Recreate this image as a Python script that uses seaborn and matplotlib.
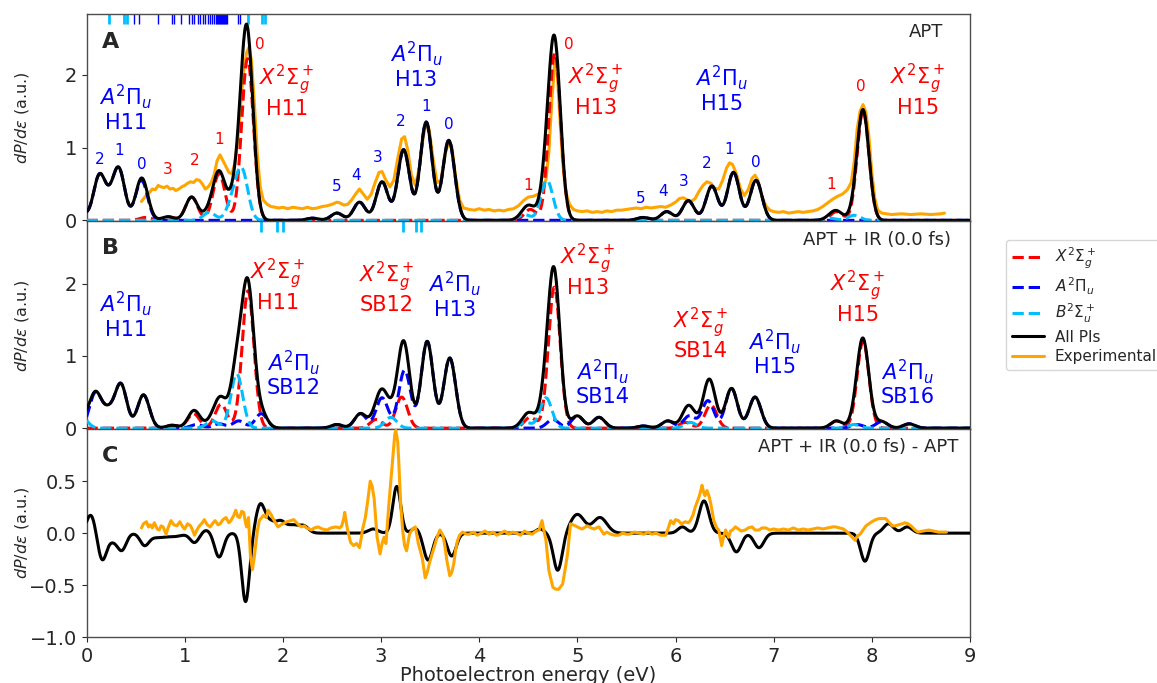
import numpy as np
import matplotlib
matplotlib.use("Agg")
import matplotlib.pyplot as plt
from matplotlib.lines import Line2D
import seaborn as sns

# ===================== data =====================
# Peak tables (centre in eV, height in a.u.) of each ionisation channel.
# Panel A : APT
a_X_pos = [0.60, 0.83, 1.07, 1.35, 1.64, 4.52, 4.77, 7.64, 7.91]
a_X_amp = [0.04, 0.05, 0.32, 0.64, 2.22, 0.15, 2.30, 0.12, 1.50]
a_A_pos = [-0.08, 0.13, 0.235, 0.33, 0.56, 2.30, 2.55, 2.78, 3.01, 3.23, 3.46, 3.69,
           5.67, 5.91, 6.13, 6.37, 6.59, 6.82]
a_A_amp = [0.15, 0.60, 0.17, 0.68, 0.55, 0.03, 0.10, 0.25, 0.53, 0.97, 1.35, 1.10,
           0.04, 0.12, 0.27, 0.47, 0.66, 0.55]
a_B_pos = [1.25, 1.49, 1.585, 4.46, 4.69, 7.57, 7.82]
a_B_amp = [0.11, 0.25, 0.65, 0.08, 0.55, 0.03, 0.07]

# Panel B : APT + IR (0.0 fs)
b_X_pos = [0.87, 1.09, 1.37, 1.645, 2.95, 3.21, 4.52, 4.765, 6.10, 6.36, 7.64, 7.91]
b_X_amp = [0.04, 0.20, 0.33, 1.90, 0.12, 0.43, 0.15, 1.95, 0.08, 0.32, 0.10, 1.20]
b_A_pos = [0.09, 0.22, 0.35, 0.58, 1.12, 1.35, 1.55, 1.78, 2.55, 2.79, 3.01, 3.24, 3.47,
           3.70, 4.75, 5.00, 5.22, 5.67, 5.92, 6.14, 6.33, 6.57, 6.81, 7.85, 8.10, 8.38]
b_A_amp = [0.48, 0.22, 0.60, 0.46, 0.05, 0.06, 0.10, 0.20, 0.05, 0.20, 0.42, 0.80, 1.20,
           0.97, 0.12, 0.17, 0.15, 0.03, 0.10, 0.17, 0.38, 0.55, 0.43, 0.05, 0.09, 0.06]
b_B_pos = [-0.05, 1.28, 1.53, 3.10, 4.47, 4.68, 6.15, 7.82]
b_B_amp = [0.15, 0.10, 0.75, 0.15, 0.08, 0.42, 0.08, 0.05]

# Panel C : difference (theory), signed peaks with their widths
c_pos = [0.045, 0.16, 0.27, 0.36, 0.59, 0.72, 0.90, 1.10, 1.22, 1.35, 1.62, 1.77, 1.87,
         1.98, 2.10, 2.21, 2.92, 3.16, 3.35, 3.48, 3.72, 4.62, 4.80, 5.00, 5.23, 6.07,
         6.29, 6.62, 6.85, 7.93, 8.17, 8.36]
c_amp = [0.18, -0.26, -0.06, -0.16, -0.11, -0.04, -0.03, -0.09, 0.03, -0.23, -0.66, 0.27,
         0.10, 0.11, 0.07, 0.07, 0.04, 0.45, 0.05, -0.26, -0.22, 0.04, -0.36, 0.18, 0.15,
         0.06, 0.31, -0.18, -0.14, -0.27, 0.09, 0.06]
c_wid = [0.045, 0.045, 0.045, 0.045, 0.045, 0.08, 0.08, 0.045, 0.045, 0.045, 0.04, 0.045,
         0.05, 0.05, 0.05, 0.05, 0.05, 0.04, 0.04, 0.045, 0.045, 0.04, 0.045, 0.07, 0.07,
         0.045, 0.05, 0.05, 0.05, 0.045, 0.05, 0.05]

# Experimental spectrum, panel A
a_exp_x = [0.56, 0.60, 0.64, 0.67, 0.70, 0.73, 0.76, 0.79, 0.82, 0.85, 0.88, 0.91, 0.94, 0.97,
           1.00, 1.03, 1.06, 1.09, 1.12, 1.15, 1.18, 1.21, 1.24, 1.27, 1.30, 1.33, 1.36, 1.39,
           1.42, 1.45, 1.48, 1.51, 1.54, 1.57, 1.60, 1.63, 1.655, 1.68, 1.71, 1.74, 1.77, 1.80,
           1.84, 1.88, 1.92, 1.96, 2.00, 2.05, 2.10, 2.15, 2.20, 2.25, 2.30, 2.35, 2.40, 2.45,
           2.50, 2.55, 2.58, 2.62, 2.66, 2.70, 2.74, 2.78, 2.82, 2.86, 2.90, 2.94, 2.98, 3.01,
           3.05, 3.09, 3.13, 3.17, 3.21, 3.24, 3.27, 3.31, 3.35, 3.39, 3.43, 3.46, 3.49, 3.53,
           3.57, 3.61, 3.65, 3.69, 3.72, 3.76, 3.80, 3.84, 3.90, 3.95, 4.00, 4.05, 4.10, 4.15,
           4.20, 4.25, 4.30, 4.35, 4.40, 4.45, 4.50, 4.55, 4.60, 4.64, 4.68, 4.71, 4.74, 4.77,
           4.79, 4.82, 4.85, 4.88, 4.92, 4.96, 5.00, 5.05, 5.10, 5.15, 5.20, 5.25, 5.30, 5.35,
           5.40, 5.45, 5.50, 5.55, 5.60, 5.65, 5.70, 5.75, 5.80, 5.85, 5.90, 5.95, 6.00, 6.04,
           6.08, 6.12, 6.16, 6.20, 6.24, 6.28, 6.32, 6.36, 6.40, 6.44, 6.48, 6.52, 6.55, 6.58,
           6.62, 6.66, 6.70, 6.74, 6.78, 6.81, 6.84, 6.88, 6.92, 6.96, 7.00, 7.05, 7.10, 7.15,
           7.20, 7.25, 7.30, 7.35, 7.40, 7.45, 7.50, 7.55, 7.60, 7.65, 7.70, 7.75, 7.79, 7.82,
           7.85, 7.88, 7.91, 7.94, 7.97, 8.00, 8.03, 8.06, 8.10, 8.15, 8.20, 8.30, 8.40, 8.50,
           8.60, 8.70, 8.74]
a_exp_y = [0.26, 0.33, 0.38, 0.43, 0.42, 0.48, 0.46, 0.45, 0.47, 0.43, 0.44, 0.41, 0.43, 0.46,
           0.48, 0.51, 0.53, 0.52, 0.56, 0.55, 0.50, 0.43, 0.46, 0.52, 0.63, 0.82, 0.90, 0.82,
           0.74, 0.66, 0.64, 0.78, 1.10, 1.60, 2.05, 2.30, 2.38, 2.20, 1.60, 0.90, 0.45, 0.28,
           0.22, 0.19, 0.18, 0.17, 0.18, 0.16, 0.18, 0.17, 0.16, 0.18, 0.16, 0.17, 0.19, 0.20,
           0.22, 0.25, 0.24, 0.21, 0.22, 0.28, 0.36, 0.43, 0.36, 0.29, 0.36, 0.52, 0.66, 0.67,
           0.55, 0.46, 0.55, 0.85, 1.12, 1.15, 0.98, 0.62, 0.48, 0.72, 1.15, 1.33, 1.25, 0.85,
           0.52, 0.55, 0.90, 1.08, 1.02, 0.60, 0.28, 0.17, 0.15, 0.14, 0.16, 0.14, 0.15, 0.13,
           0.14, 0.13, 0.15, 0.16, 0.20, 0.27, 0.32, 0.33, 0.36, 0.42, 0.56, 0.95, 1.65, 2.18,
           2.15, 1.45, 0.80, 0.40, 0.22, 0.15, 0.13, 0.12, 0.13, 0.11, 0.12, 0.11, 0.13, 0.12,
           0.14, 0.14, 0.15, 0.16, 0.17, 0.16, 0.18, 0.17, 0.18, 0.19, 0.18, 0.21, 0.25, 0.30,
           0.31, 0.28, 0.26, 0.30, 0.40, 0.48, 0.53, 0.51, 0.44, 0.43, 0.55, 0.72, 0.79, 0.77,
           0.64, 0.44, 0.34, 0.42, 0.58, 0.62, 0.55, 0.33, 0.20, 0.14, 0.12, 0.11, 0.12, 0.10,
           0.11, 0.12, 0.11, 0.12, 0.13, 0.15, 0.19, 0.24, 0.29, 0.33, 0.36, 0.42, 0.52, 0.80,
           1.25, 1.50, 1.59, 1.48, 1.15, 0.65, 0.30, 0.14, 0.10, 0.09, 0.08, 0.09, 0.08, 0.09,
           0.08, 0.09, 0.10]

# Experimental difference, panel C
c_exp_x = [0.56, 0.58, 0.61, 0.63, 0.65, 0.67, 0.69, 0.72, 0.74, 0.76, 0.78, 0.81, 0.83, 0.86,
           0.89, 0.92, 0.95, 0.98, 1.00, 1.03, 1.06, 1.08, 1.10, 1.13, 1.15, 1.18, 1.20, 1.23,
           1.26, 1.29, 1.31, 1.34, 1.36, 1.39, 1.42, 1.45, 1.47, 1.50, 1.52, 1.54, 1.56, 1.58,
           1.60, 1.62, 1.63, 1.65, 1.67, 1.69, 1.71, 1.72, 1.74, 1.76, 1.80, 1.83, 1.85, 1.88,
           1.90, 1.93, 1.95, 1.98, 2.00, 2.04, 2.08, 2.11, 2.13, 2.16, 2.19, 2.22, 2.24, 2.27,
           2.29, 2.32, 2.36, 2.40, 2.45, 2.49, 2.54, 2.58, 2.60, 2.62, 2.63, 2.65, 2.66, 2.69,
           2.72, 2.75, 2.78, 2.80, 2.81, 2.84, 2.86, 2.89, 2.91, 2.93, 2.96, 2.99, 3.01, 3.03,
           3.05, 3.08, 3.10, 3.12, 3.14, 3.15, 3.17, 3.18, 3.20, 3.22, 3.24, 3.26, 3.29, 3.32,
           3.35, 3.38, 3.42, 3.45, 3.47, 3.49, 3.52, 3.54, 3.57, 3.60, 3.63, 3.65, 3.67, 3.70,
           3.72, 3.74, 3.76, 3.78, 3.80, 3.83, 3.87, 3.90, 3.94, 3.98, 4.02, 4.06, 4.10, 4.14,
           4.18, 4.22, 4.26, 4.30, 4.34, 4.38, 4.42, 4.46, 4.50, 4.54, 4.58, 4.61, 4.64, 4.66,
           4.68, 4.71, 4.75, 4.78, 4.81, 4.85, 4.88, 4.90, 4.93, 4.98, 5.02, 5.05, 5.10, 5.14,
           5.17, 5.22, 5.27, 5.30, 5.34, 5.38, 5.42, 5.46, 5.50, 5.53, 5.58, 5.63, 5.68, 5.72,
           5.76, 5.80, 5.85, 5.90, 5.93, 5.95, 5.98, 6.00, 6.03, 6.06, 6.10, 6.13, 6.15, 6.18,
           6.20, 6.24, 6.26, 6.27, 6.29, 6.30, 6.32, 6.34, 6.36, 6.39, 6.42, 6.44, 6.47, 6.49,
           6.51, 6.54, 6.56, 6.58, 6.61, 6.64, 6.67, 6.71, 6.74, 6.78, 6.81, 6.85, 6.88, 6.92,
           6.96, 7.00, 7.05, 7.10, 7.15, 7.20, 7.25, 7.30, 7.35, 7.40, 7.45, 7.50, 7.55, 7.60,
           7.63, 7.67, 7.71, 7.75, 7.78, 7.81, 7.83, 7.85, 7.88, 7.91, 7.94, 7.97, 8.00, 8.04,
           8.07, 8.11, 8.14, 8.17, 8.21, 8.24, 8.27, 8.31, 8.34, 8.37, 8.41, 8.44, 8.47, 8.52,
           8.58, 8.63, 8.68, 8.72, 8.76]
c_exp_y = [0.05, 0.09, 0.11, 0.06, 0.08, 0.05, 0.10, 0.04, 0.03, 0.07, 0.06, -0.01, 0.05, 0.12,
           0.08, 0.07, 0.11, 0.06, 0.04, 0.09, 0.07, 0.03, -0.02, 0.04, 0.07, 0.10, 0.13, 0.08,
           0.06, 0.10, 0.12, 0.08, 0.09, 0.13, 0.15, 0.10, 0.12, 0.17, 0.22, 0.16, 0.15, 0.21,
           0.20, 0.10, 0.06, 0.15, -0.23, -0.35, -0.22, -0.14, 0.02, 0.12, 0.17, 0.15, 0.22, 0.18,
           0.14, 0.09, 0.06, 0.08, 0.09, 0.11, 0.12, 0.13, 0.11, 0.08, 0.06, 0.07, 0.05, 0.04,
           0.03, 0.05, 0.06, 0.04, 0.03, 0.05, 0.06, 0.05, 0.07, 0.14, 0.20, 0.08, 0.03, -0.09,
           -0.12, -0.10, -0.14, -0.04, 0.03, 0.15, 0.28, 0.50, 0.45, 0.33, -0.04, -0.20, -0.10, -0.04,
           -0.10, 0.28, 0.50, 0.72, 0.95, 0.99, 0.88, 0.70, 0.28, 0.03, -0.12, -0.17, -0.01, 0.04,
           0.06, -0.10, -0.24, -0.43, -0.38, -0.30, -0.20, -0.14, -0.04, 0.03, -0.02, -0.12, -0.26, -0.41,
           -0.38, -0.30, -0.16, -0.07, -0.02, 0.01, -0.01, -0.01, 0.01, -0.02, 0.00, 0.02, -0.01, 0.01,
           -0.02, 0.00, 0.02, -0.01, 0.01, 0.00, -0.02, 0.02, 0.00, -0.01, 0.02, 0.03, 0.12, 0.02,
           -0.07, -0.36, -0.52, -0.54, -0.54, -0.49, -0.32, -0.20, 0.09, 0.07, 0.05, 0.04, 0.07, 0.05,
           0.04, 0.06, -0.01, 0.01, -0.01, -0.02, -0.02, 0.00, -0.01, -0.01, 0.01, 0.00, -0.01, 0.01,
           -0.01, 0.00, -0.02, -0.02, 0.06, 0.12, 0.09, 0.13, 0.12, 0.09, 0.11, 0.10, 0.12, 0.18,
           0.25, 0.35, 0.42, 0.46, 0.38, 0.36, 0.41, 0.36, 0.28, 0.12, 0.05, 0.03, -0.12, -0.03,
           0.03, -0.04, 0.02, 0.03, 0.06, 0.04, 0.02, 0.03, 0.05, 0.06, 0.03, 0.03, 0.05, 0.05,
           0.03, 0.04, 0.03, 0.04, 0.03, 0.05, 0.03, 0.04, 0.03, 0.04, 0.05, 0.04, 0.05, 0.06,
           0.06, 0.05, 0.04, 0.01, -0.02, -0.05, -0.07, -0.03, -0.01, 0.03, 0.07, 0.09, 0.11, 0.13,
           0.14, 0.14, 0.14, 0.11, 0.07, 0.07, 0.08, 0.09, 0.10, 0.09, 0.06, 0.03, 0.01, 0.02,
           0.03, 0.02, 0.01, 0.01, 0.01]

# Rug marks (eV)
rugA_cyan = [0.23, 0.38, 0.41, 1.64, 1.79, 1.82]
rugA_blue = [0.48, 0.53, 0.73, 0.87, 0.89, 0.96, 1.04, 1.07, 1.09, 1.14, 1.16, 1.19, 1.21,
             1.24, 1.26, 1.28, 1.30, 1.32, 1.33, 1.34, 1.35, 1.36, 1.37, 1.38, 1.39, 1.40,
             1.41, 1.42, 1.43, 1.54, 1.56]
rugB_cyan = [1.78, 1.94, 2.00, 3.22, 3.36, 3.41]

# Annotations: (text, x, y)
lab_X = r'$X^2\Sigma_g^+$'
lab_A = r'$A^2\Pi_u$'
a_blue_nums = [("2", 0.13, 0.84), ("1", 0.33, 0.96), ("0", 0.56, 0.77),
               ("5", 2.55, 0.46), ("4", 2.75, 0.62), ("3", 2.97, 0.86), ("2", 3.20, 1.36),
               ("1", 3.46, 1.57), ("0", 3.69, 1.32),
               ("5", 5.65, 0.30), ("4", 5.87, 0.40), ("3", 6.08, 0.54), ("2", 6.32, 0.78),
               ("1", 6.55, 0.97), ("0", 6.82, 0.79)]
a_red_nums = [("3", 0.83, 0.70), ("2", 1.10, 0.82), ("1", 1.35, 1.11), ("0", 1.77, 2.42),
              ("1", 4.50, 0.48), ("0", 4.91, 2.42), ("1", 7.59, 0.49), ("0", 7.89, 1.84)]
a_labels = [(lab_A, "H11", 0.40, 1.55, "blue"), (lab_X, "H11", 2.04, 1.78, "red"),
            (lab_A, "H13", 3.36, 2.14, "blue"), (lab_X, "H13", 5.19, 1.79, "red"),
            (lab_A, "H15", 6.47, 1.81, "blue"), (lab_X, "H15", 8.47, 1.79, "red")]
b_labels = [(lab_A, "H11", 0.40, 1.57, "blue"), (lab_X, "H11", 1.95, 1.98, "red"),
            (lab_A, "SB12", 2.11, 0.76, "blue"), (lab_X, "SB12", 3.06, 1.95, "red"),
            (lab_A, "H13", 3.75, 1.85, "blue"), (lab_X, "H13", 5.11, 2.19, "red"),
            (lab_A, "SB14", 5.26, 0.64, "blue"), (lab_X, "SB14", 6.26, 1.31, "red"),
            (lab_A, "H15", 7.01, 1.05, "blue"), (lab_X, "H15", 7.86, 1.82, "red"),
            (lab_A, "SB16", 8.36, 0.64, "blue")]

# ===================== plotting =====================
sns.set_style("ticks", {"axes.edgecolor": "0.3", "xtick.color": "0.15", "ytick.color": "0.15"})
plt.rcParams['font.family'] = ['DejaVu Sans']
plt.rcParams['mathtext.fontset'] = 'dejavusans'

energy = np.linspace(0, 9, 1801)


def broaden(pos, amp, width):
    pos = np.asarray(pos, float)[:, None]
    amp = np.asarray(amp, float)[:, None]
    width = np.broadcast_to(np.asarray(width, float), pos.shape[:1])[:, None]
    return (amp * np.exp(-(energy - pos) ** 2 / (2 * width ** 2))).sum(axis=0)


SIG = 0.06
aX, aA, aB = broaden(a_X_pos, a_X_amp, SIG), broaden(a_A_pos, a_A_amp, SIG), broaden(a_B_pos, a_B_amp, SIG)
bX, bA, bB = broaden(b_X_pos, b_X_amp, SIG), broaden(b_A_pos, b_A_amp, SIG), broaden(b_B_pos, b_B_amp, SIG)
c_theory = broaden(c_pos, c_amp, c_wid)

C_RED, C_BLUE, C_CYAN, C_ORANGE = "red", "blue", "deepskyblue", "orange"
LW = 2.2

fig = plt.figure(figsize=(11.57, 6.83), dpi=100)
axA, axB, axC = fig.subplots(3, 1, sharex=True)
fig.subplots_adjust(left=0.0748, right=0.8384, top=0.980, bottom=0.0673, hspace=0)


def line(ax, x, y, color, ls="-", z=2):
    sns.lineplot(x=x, y=y, ax=ax, color=color, linewidth=LW, linestyle=ls, zorder=z,
                 legend=False, errorbar=None)


# Panel A
line(axA, a_exp_x, a_exp_y, C_ORANGE, z=2)
line(axA, energy, aX, C_RED, "--", 3)
line(axA, energy, aA, C_BLUE, "--", 3)
line(axA, energy, aB, C_CYAN, "--", 3)
line(axA, energy, aX + aA + aB, "black", z=4)
axA.vlines(rugA_blue, 0.95, 1.0, transform=axA.get_xaxis_transform(), colors="blue", lw=1.0)
axA.vlines(rugA_cyan, 0.95, 1.0, transform=axA.get_xaxis_transform(), colors=C_CYAN, lw=2.0)

# Panel B
line(axB, energy, bX, C_RED, "--", 3)
line(axB, energy, bA, C_BLUE, "--", 3)
line(axB, energy, bB, C_CYAN, "--", 3)
line(axB, energy, bX + bA + bB, "black", z=4)
axB.vlines(rugB_cyan, 0.95, 1.0, transform=axB.get_xaxis_transform(), colors=C_CYAN, lw=2.0)

# Panel C
line(axC, energy, c_theory, "black", z=3)
line(axC, c_exp_x, c_exp_y, C_ORANGE, z=4)

# texts
for t, x, y in a_blue_nums:
    axA.text(x, y, t, color="blue", fontsize=11, ha="center", va="center")
for t, x, y in a_red_nums:
    axA.text(x, y, t, color="red", fontsize=11, ha="center", va="center")
for ax, labs in ((axA, a_labels), (axB, b_labels)):
    for st, h, x, y, col in labs:
        ax.text(x, y, st + "\n" + h, color=col, fontsize=15, ha="center", va="center",
                multialignment="center", linespacing=1.1)

axA.text(0.970, 0.914, "APT", transform=axA.transAxes, ha="right", va="center", fontsize=13)
axB.text(0.979, 0.913, "APT + IR (0.0 fs)", transform=axB.transAxes, ha="right", va="center", fontsize=13)
axC.text(0.987, 0.914, "APT + IR (0.0 fs) - APT", transform=axC.transAxes, ha="right", va="center", fontsize=13)
for ax, letter, yy in ((axA, "A", 0.862), (axB, "B", 0.872), (axC, "C", 0.871)):
    ax.text(0.0266, yy, letter, transform=ax.transAxes, ha="center", va="center",
            fontsize=16, fontweight="bold")

# axes cosmetics
axA.set_ylim(-0.015, 2.84)
axB.set_ylim(-0.015, 2.86)
axC.set_ylim(-1.0, 1.0)
axA.set_yticks([0, 1, 2])
axB.set_yticks([0, 1, 2])
axC.set_yticks([-1.0, -0.5, 0.0, 0.5])
axC.set_xlim(0, 9)
axC.set_xticks(range(10))
for ax in (axA, axB, axC):
    ax.set_ylabel(r"$dP/d\varepsilon$ (a.u.)", fontsize=11.5)
    ax.yaxis.set_label_coords(-0.063, 0.5)
    ax.tick_params(labelsize=14)
    for s in ax.spines.values():
        s.set_linewidth(1.0)
for ax in (axA, axB):
    ax.tick_params(axis="x", bottom=False, labelbottom=False)
axC.set_xlabel("Photoelectron energy (eV)", fontsize=14, labelpad=0)

handles = [Line2D([], [], color=C_RED, ls="--", lw=LW),
           Line2D([], [], color=C_BLUE, ls="--", lw=LW),
           Line2D([], [], color=C_CYAN, ls="--", lw=LW),
           Line2D([], [], color="black", lw=LW),
           Line2D([], [], color=C_ORANGE, lw=LW)]
labels = [lab_X, lab_A, r'$B^2\Sigma_u^+$', "All PIs", "Experimental"]
fig.legend(handles, labels, loc="upper left", bbox_to_anchor=(1006 / 1157, 1 - 240 / 683),
           borderaxespad=0, fontsize=11, frameon=True, handlelength=2.1,
           handletextpad=0.7, labelspacing=0.3, borderpad=0.4)

fig.savefig("out.png", dpi=100)
